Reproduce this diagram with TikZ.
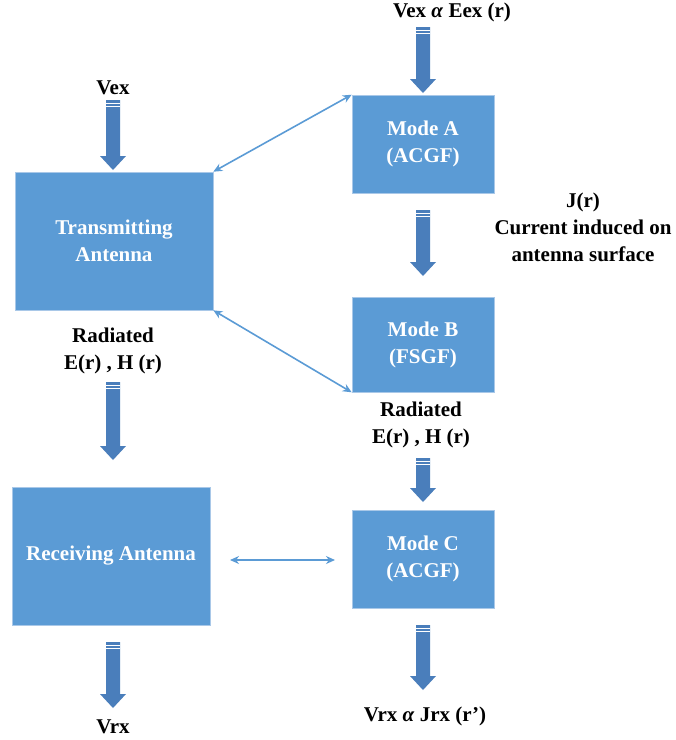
\documentclass[tikz,border=0pt]{standalone}
\usepackage{fontspec}
\setmainfont{Liberation Serif}
\usetikzlibrary{arrows.meta}
\definecolor{boxblue}{HTML}{5B9BD5}
\definecolor{arrowblue}{HTML}{4A7EBB}
\definecolor{edgeblue}{HTML}{A9C8E8}
% block arrow pointing down: centre x, top y, bottom y
\newcommand\barrow[3]{%
  \fill[arrowblue] (#1-7,#2) -- (#1+7,#2) -- (#1+7,#3-14) -- (#1+13,#3-14)
     -- (#1,#3) -- (#1-13,#3-14) -- (#1-7,#3-14) -- cycle;
  \draw[white,line width=0.8pt] (#1-7,#2+3) -- (#1+7,#2+3);
  \draw[white,line width=0.6pt] (#1-7,#2+6) -- (#1+7,#2+6);
}
\begin{document}
\begin{tikzpicture}[x=1pt,y=-1pt,
  box/.style={fill=boxblue,draw=edgeblue,line width=0.6pt,text=white,
    font=\fontsize{21}{27}\selectfont\bfseries,align=center,inner sep=0pt},
  lbl/.style={font=\fontsize{21}{27}\selectfont\bfseries,align=center,inner sep=0pt},
  link/.style={boxblue,line width=1.6pt,{Stealth[length=9pt,width=8pt]}-{Stealth[length=9pt,width=8pt]}}]
\useasboundingbox (0,0) rectangle (676,740);

% boxes
\node[box,minimum width=198pt,minimum height=138pt] (tx) at (114,241) {Transmitting\\Antenna};
\node[box,minimum width=198pt,minimum height=138pt] (rx) at (111,556) {Receiving Antenna};
\node[box,minimum width=142pt,minimum height=98pt] (ma) at (423,144) {Mode A\\(ACGF)};
\node[box,minimum width=142pt,minimum height=95pt] (mb) at (423,344.5) {Mode B\\(FSGF)};
\node[box,minimum width=142pt,minimum height=98pt] (mc) at (423,559) {Mode C\\(ACGF)};

% labels
\node[lbl] (vex) at (113,88) {Vex};
\node[lbl] (vexa) at (452,12) {Vex \textit{α} Eex (r)};
\node[lbl] (jr) at (583,227) {J(r)\\Current induced on\\antenna surface};
\node[lbl] (radl) at (113,351) {Radiated\\E(r) , H (r)};
\node[lbl] (radr) at (421,425) {Radiated\\E(r) , H (r)};
\node[lbl] (vrx) at (113,727) {Vrx};
\node[lbl] (vrxa) at (425,716) {Vrx \textit{α} Jrx (r’)};

% flow arrows
\barrow{113}{100}{170}
\barrow{423}{27}{93}
\barrow{423}{210}{276}
\barrow{113}{382}{460}
\barrow{423}{458}{502}
\barrow{113}{642}{708}
\barrow{423}{625}{690}

% coupling links
\draw[link] (tx.north east) -- (ma.north west);
\draw[link] (tx.south east) -- (mb.south west);
\coordinate (l1) at (230,560);
\coordinate (l2) at (335,560);
\draw[link] (l1) -- (l2);
\end{tikzpicture}
\end{document}
